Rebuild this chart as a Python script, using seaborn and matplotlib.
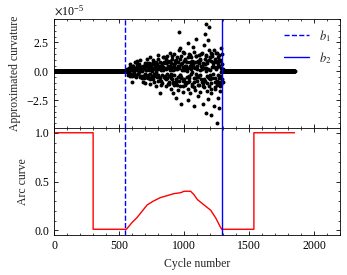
import numpy as np
import pandas as pd
import matplotlib
matplotlib.use("Agg")
import matplotlib.pyplot as plt
from matplotlib.ticker import AutoMinorLocator, MultipleLocator, ScalarFormatter
import seaborn as sns

# ---------------- data ----------------
b1 = 546
b2 = 1290
flat_left_cycles = np.arange(0, 546)
flat_right_cycles = np.arange(1291, 1851)

band_x = np.arange(560, 1291, 10)
band_a = [0.2,-0.3,0.4,0.1,-0.2,0.5,-0.4,0.3,0.6,-0.1,
          -0.5,0.4,0.2,-0.6,0.7,0.1,-0.3,0.5,-0.7,0.3,
          0.6,-0.2,0.8,-0.5,0.2,0.4,-0.8,0.6,0.1,-0.4,
          0.7,-0.6,0.3,0.9,-0.2,-0.7,0.5,0.2,-0.9,0.8,
          0.4,-0.3,0.6,-0.8,0.1,0.9,-0.5,0.3,-0.6,0.7,
          -0.1,0.5,-0.9,0.8,0.2,-0.4,1.0,-0.7,0.4,0.6,
          -0.8,0.3,0.9,-0.5,0.1,-1.0,0.7,0.4,-0.6,0.8,
          -0.3,0.5,-0.9,0.6]
band_b = [-0.1,0.3,-0.4,0.2,0.5,-0.2,0.1,-0.5,0.3,0.6,
          0.2,-0.6,0.5,0.3,-0.3,0.7,-0.6,0.1,0.4,-0.4,
          -0.7,0.5,-0.1,0.6,-0.8,0.3,0.5,-0.3,0.8,-0.6,
          0.2,0.5,-0.9,0.1,0.7,0.4,-0.3,0.9,0.3,-0.5,
          -0.8,0.6,0.1,0.4,-0.7,0.3,0.8,-0.9,0.5,0.2,
          0.9,-0.6,0.3,-0.2,-0.8,0.7,0.1,0.5,-1.0,0.3,
          0.6,-0.4,0.2,1.0,-0.7,0.4,-0.2,0.8,0.9,-0.8,
          0.6,-0.4,0.3,-0.7]
band_c = [0.0,-0.2,0.2,-0.4,0.3,0.0,-0.3,0.4,-0.2,0.1,
          0.4,0.0,-0.4,0.5,0.1,-0.5,0.3,-0.2,0.6,0.0,
          -0.4,0.2,0.4,-0.3,0.5,-0.6,0.1,0.7,-0.5,0.3,
          -0.2,0.8,-0.4,-0.6,0.4,0.1,0.6,-0.7,0.2,0.5,
          -0.3,-0.5,0.7,0.2,-0.9,0.5,0.0,-0.4,0.8,-0.2,
          0.4,0.8,-0.6,0.5,-0.5,0.9,-0.3,0.2,0.7,-0.7,
          0.0,0.7,-0.5,-0.3,0.9,-0.6,0.5,-0.9,0.2,0.4,
          -0.6,0.9,-0.1,0.2]
band_d = [0.1,-0.1,0.2,-0.2,0.1,0.3,-0.3,0.1,-0.2,0.4,
          -0.4,0.3,0.5,-0.2,-0.5,0.5,0.7,-0.6,0.2,0.8,
          -0.9,0.6,-0.3,1.1,-0.5,0.8,-1.0,0.4,1.2,-0.7,
          0.9,-1.1,0.5,-0.4,1.3,-0.9,0.7,1.0,-1.2,0.3,
          1.1,-0.6,-1.3,0.9,0.5,-1.0,1.2,-0.8,1.4,-1.1,
          0.6,-1.4,1.3,-0.5,0.9,-1.2,1.5,-0.9,-1.3,1.1,
          1.4,-1.0,-0.6,1.2,-1.5,1.3,0.8,-1.4,1.6,-1.1,
          1.0,-1.3,1.5,-0.9]

outlier_x = [664, 718, 741, 803, 741, 811, 911, 680, 625, 587, 780, 857,
             1166, 1189, 958, 1089, 1160, 1181, 1027, 965, 988, 1066, 1151,
             1228, 1205, 1259, 1112,
             911, 934, 973, 1027, 1073, 1143, 1166, 1205, 1256, 1266, 1104,
             1181, 1228, 1259,
             870, 890, 905, 925, 945, 960, 980, 1000, 1010, 1040, 1050, 1075,
             1095, 1120, 1135, 1170, 1190, 1200, 1215, 1240, 1250, 1270, 1280,
             1285,
             860, 880, 900, 920, 950, 970, 990, 1005, 1030, 1045, 1060, 1085,
             1110, 1125, 1150, 1175, 1195, 1210, 1235, 1250, 1275, 1285,
             600, 640, 700, 760, 820, 840]
outlier_y = [1.0, 1.1, 1.2, 1.4, -1.1, -1.9, -1.0, -0.9, 0.8, 0.6, -1.3, 1.1,
             4.1, 3.85, 3.4, 2.8, 3.2, 2.7, 2.45, 2.0, 1.7, 2.1, 2.3,
             1.8, 1.6, 1.25, 1.4,
             -1.9, -2.3, -2.8, -2.5, -3.0, -2.8, -3.6, -3.8, -4.47, -3.2, -2.1,
             -2.4, -3.0, -2.3,
             1.3, 1.6, 1.1, 1.5, 1.2, 1.8, 1.3, 1.6, 1.1, 1.5, 1.2, 1.7,
             1.3, 1.1, 1.6, 1.3, 1.8, 1.2, 1.5, 1.1, 1.6, 1.4, 1.0,
             2.0,
             -1.3, -1.1, -1.5, -1.2, -1.6, -1.3, -1.8, -1.2, -1.5, -1.9, -1.3, -1.6,
             -1.2, -1.8, -1.4, -1.7, -1.3, -1.9, -1.5, -1.2, -1.7, -1.1,
             -0.9, 0.9, -1.0, 1.0, -1.2, 1.2]

arc_x = [0, 300, 300, 546, 556, 600, 638, 677, 716, 765, 818, 870, 920, 973,
         1000, 1050, 1076, 1102, 1153, 1205, 1243, 1282, 1290, 1537, 1537, 1850]
arc_y = [1.0, 1.0, 0.01, 0.01, 0.01, 0.08, 0.13, 0.195, 0.26, 0.30, 0.335, 0.355,
         0.375, 0.385, 0.40, 0.40, 0.365, 0.315, 0.26, 0.205, 0.127, 0.025, 0.01,
         0.01, 1.0, 1.0]

scale = 1e-5
curv_x = np.concatenate([flat_left_cycles, band_x, band_x + 3, band_x + 6,
                         band_x + 8, np.array(outlier_x), flat_right_cycles])
curv_y = np.concatenate([np.zeros(len(flat_left_cycles)),
                         np.array(band_a) * scale, np.array(band_b) * scale,
                         np.array(band_c) * scale, np.array(band_d) * scale,
                         np.array(outlier_y) * scale,
                         np.zeros(len(flat_right_cycles))])
curv_df = pd.DataFrame({"cycle": curv_x, "curv": curv_y})
arc_df = pd.DataFrame({"cycle": arc_x, "arc": arc_y})

# ---------------- style ----------------
sns.set_theme(style="ticks")
plt.rcParams.update({
    "font.family": ["Liberation Serif", "DejaVu Serif"],
    "mathtext.fontset": "stix",
    "font.size": 8.5,
    "axes.labelsize": 8.5,
    "xtick.labelsize": 8.5,
    "ytick.labelsize": 8.5,
    "legend.fontsize": 9,
    "axes.linewidth": 0.6,
    "axes.edgecolor": "black",
    "xtick.direction": "in",
    "ytick.direction": "in",
    "xtick.top": True,
    "ytick.right": True,
    "xtick.major.size": 3,
    "ytick.major.size": 3,
    "xtick.minor.size": 1.5,
    "ytick.minor.size": 1.5,
    "xtick.major.width": 0.6,
    "ytick.major.width": 0.6,
    "xtick.minor.width": 0.5,
    "ytick.minor.width": 0.5,
    "xtick.minor.visible": True,
    "ytick.minor.visible": True,
    "xtick.color": "black",
    "ytick.color": "black",
})

fig = plt.figure(figsize=(3.47, 2.75), dpi=100)
ax1 = fig.add_axes([0.156, 0.535, 0.824, 0.396])
ax2 = fig.add_axes([0.156, 0.145, 0.824, 0.390], sharex=ax1)

sns.scatterplot(data=curv_df, x="cycle", y="curv", ax=ax1, color="black",
                s=8, linewidth=0, legend=False)
ax1.axvline(b1, color="#0000ff", ls="--", lw=1.0, label="$b_1$")
ax1.axvline(b2, color="#0000ff", ls="-", lw=1.0, label="$b_2$")
ax1.set_ylabel("Approximated curvature")
ax1.set_xlabel("")
ax1.tick_params(labelbottom=False)
ax1.yaxis.set_major_locator(MultipleLocator(2.5e-5))
ax1.yaxis.set_minor_locator(AutoMinorLocator(5))
fmt = ScalarFormatter(useMathText=True)
fmt.set_powerlimits((0, 0))
ax1.yaxis.set_major_formatter(fmt)
ax1.legend(loc="upper right", frameon=False, handlelength=2.0,
           borderaxespad=0.3, labelspacing=0.5)

sns.lineplot(data=arc_df, x="cycle", y="arc", ax=ax2, color="#ff0000",
             lw=1.0, sort=False, estimator=None)
ax2.axvline(b1, color="#0000ff", ls="--", lw=1.0)
ax2.axvline(b2, color="#0000ff", ls="-", lw=1.0)
ax2.set_ylabel("Arc curve")
ax2.set_xlabel("Cycle number")
ax2.set_ylim(-0.05, 1.05)
ax2.yaxis.set_major_locator(MultipleLocator(0.5))
ax2.yaxis.set_minor_locator(AutoMinorLocator(5))
ax2.set_xlim(0, 2200)
ax2.xaxis.set_major_locator(MultipleLocator(500))
ax2.xaxis.set_minor_locator(AutoMinorLocator(5))

fig.align_ylabels([ax1, ax2])
fig.savefig("out.png", dpi=100)
